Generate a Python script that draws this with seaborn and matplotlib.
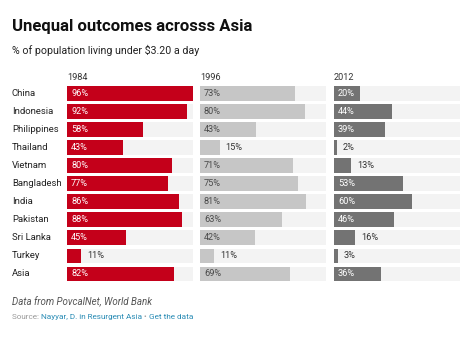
import matplotlib
matplotlib.use("Agg")
import matplotlib.pyplot as plt
import seaborn as sns
import pandas as pd

countries = ["China", "Indonesia", "Philippines", "Thailand", "Vietnam", "Bangladesh",
             "India", "Pakistan", "Sri Lanka", "Turkey", "Asia"]
y1984 = [96, 92, 58, 43, 80, 77, 86, 88, 45, 11, 82]
y1996 = [73, 80, 43, 15, 71, 75, 81, 63, 42, 11, 69]
y2012 = [20, 44, 39, 2, 13, 53, 60, 46, 16, 3, 36]
years = ["1984", "1996", "2012"]

sns.set_theme(style="white")
plt.rcParams['font.family'] = ['Roboto', 'DejaVu Sans']

W, H = 474, 344
fig = plt.figure(figsize=(W / 100, H / 100), dpi=100)
fig.patch.set_facecolor("white")

series = [y1984, y1996, y2012]
bar_colors = ["#c4001a", "#c6c6c6", "#737373"]
in_colors = ["white", "#4a4a4a", "white"]
track_color = "#f3f3f3"
vmax = max(max(s) for s in series)

panel_left = [67, 200, 334]
panel_w = 125.5
top_px, bot_px = 84.3, 282.8

df_all = []
for yr, vals in zip(years, series):
    for c, v in zip(countries, vals):
        df_all.append({"country": c, "year": yr, "value": v, "track": vmax})
df = pd.DataFrame(df_all)

for i, yr in enumerate(years):
    ax = fig.add_axes([panel_left[i] / W, 1 - bot_px / H, panel_w / W, (bot_px - top_px) / H])
    sub = df[df["year"] == yr]
    sns.barplot(data=sub, y="country", x="track", order=countries, color=track_color,
                width=0.8, ax=ax, saturation=1, linewidth=0)
    sns.barplot(data=sub, y="country", x="value", order=countries, color=bar_colors[i],
                width=0.8, ax=ax, saturation=1, linewidth=0)
    ax.set_xlim(0, vmax)
    ax.set_ylim(len(countries) - 0.5, -0.5)
    ax.set_xlabel("")
    ax.set_ylabel("")
    ax.set_xticks([])
    ax.set_yticks([])
    for s in ax.spines.values():
        s.set_visible(False)
    ax.set_facecolor("none")
    for j, v in enumerate(sub["value"].tolist()):
        if v >= 18:
            ax.annotate(f"{v}%", xy=(0, j), xytext=(4, 0), textcoords="offset pixels",
                        ha="left", va="center", fontsize=6.6, color=in_colors[i])
        else:
            ax.annotate(f"{v}%", xy=(v, j), xytext=(6, 0), textcoords="offset pixels",
                        ha="left", va="center", fontsize=6.6, color="#333333")
    fig.text(panel_left[i] / W, 1 - 77 / H, yr, ha="left", va="center",
             fontsize=6.6, color="#333333")

# country labels
pitch = (bot_px - top_px) / len(countries)
for j, c in enumerate(countries):
    yc = top_px + pitch * (j + 0.5)
    fig.text(12 / W, 1 - yc / H, c, ha="left", va="center", fontsize=6.8, color="#222222")

fig.text(12 / W, 1 - 26 / H, "Unequal outcomes acrosss Asia", ha="left", va="center",
         fontsize=12.0, fontweight="bold", color="#111111")
fig.text(12 / W, 1 - 50 / H, "% of population living under $3.20 a day", ha="left",
         va="center", fontsize=7.7, color="#222222")
fig.text(12 / W, 1 - 302 / H, "Data from PovcalNet, World Bank", ha="left", va="center",
         fontsize=7, style="italic", color="#555555")

# source line built piece by piece
renderer = fig.canvas.get_renderer()
x = 12 / W
parts = [("Source: ", "#9a9a9a"), ("Nayyar, D. in Resurgent Asia", "#2a8cb5"),
         (" \u2022 ", "#9a9a9a"), ("Get the data", "#2a8cb5")]
for txt, col in parts:
    t = fig.text(x, 1 - 317 / H, txt, ha="left", va="center", fontsize=5.9, color=col)
    bb = t.get_window_extent(renderer=renderer)
    x += bb.width / W

fig.savefig("out.png", dpi=100, facecolor="white")
